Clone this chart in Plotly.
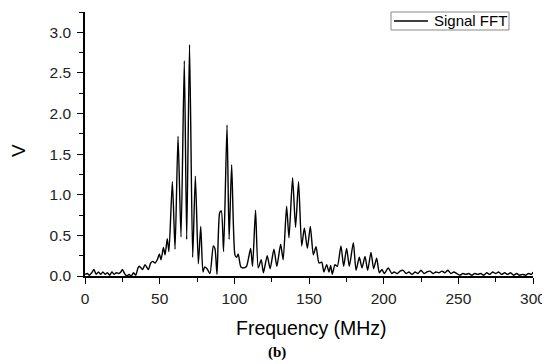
import plotly.graph_objects as go

# Frequency (MHz) and amplitude (V)
freq_mhz = [
    0, 1.5, 3, 4.5, 6, 7.5, 9, 10.5, 12, 13.5, 15, 16.5, 18, 19.5, 21, 22.5, 24, 25,
    26.5, 28, 29.5, 31, 32.5, 34, 35.5, 36.4, 38.6, 40.2, 42.4, 44, 45.4, 46.9, 48.4,
    49.8, 50.9, 52.5, 53.6, 55.1, 56.2, 58.5, 60.3, 62.3, 64.3, 66.5, 68.1, 70, 72.1,
    73.9, 75.9, 77.5, 79, 80.1, 81.7, 83.7, 85.9, 87, 88.4, 90.2, 91.3, 92.8, 95.1,
    96.5, 98.2, 100.4, 101.5, 102.6, 104.4, 106.4, 108.2, 110.9, 112.2, 114.2, 116,
    118, 119.5, 122, 124, 126.5, 128.5, 131, 132.7, 135, 136.6, 139, 141, 143, 145.1,
    146.9, 148.9, 150.9, 152.9, 154.7, 156.7, 158.5, 160, 161.8, 163.4, 164.5, 165.6,
    167.4, 169, 171.4, 173.2, 175.2, 177, 179.7, 181.5, 183.7, 185.5, 187.5, 189.3,
    191.5, 193.3, 195.3, 197.1, 198.9, 200.4, 203.1, 205.4, 207, 209, 211, 213, 215,
    217, 219, 221, 223, 225, 227, 229, 231, 233, 235, 237, 239, 241, 243, 245, 247,
    249, 251, 253, 255, 257, 259, 261, 263, 265, 267, 269, 271, 273, 275, 277, 279,
    281, 283, 285, 287, 289, 291, 293, 295, 297, 299, 300,
]
volts = [
    0.02, 0.03, 0.01, 0.04, 0.08, 0.02, 0.05, 0.02, 0.05, 0.02, 0.04, 0.01, 0.05, 0.02,
    0.04, 0.03, 0.05, 0.08, 0.03, 0.0, 0.02, 0.0, 0.04, 0.01, 0.1, 0.12, 0.08, 0.14,
    0.08, 0.16, 0.18, 0.16, 0.2, 0.27, 0.2, 0.35, 0.26, 0.46, 0.3, 1.16, 0.33, 1.72,
    0.48, 2.65, 0.45, 2.85, 0.23, 1.23, 0.15, 0.61, 0.05, 0.11, 0.09, 0.03, 0.37, 0.34,
    0.02, 0.78, 0.8, 0.3, 1.86, 0.45, 1.37, 0.26, 0.23, 0.27, 0.11, 0.1, 0.12, 0.34,
    0.12, 0.81, 0.1, 0.2, 0.04, 0.25, 0.09, 0.33, 0.12, 0.39, 0.2, 0.86, 0.47, 1.21,
    0.6, 1.16, 0.37, 0.59, 0.34, 0.61, 0.26, 0.36, 0.16, 0.17, 0.05, 0.14, 0.05, 0.13,
    0.02, 0.14, 0.12, 0.37, 0.12, 0.34, 0.12, 0.41, 0.07, 0.23, 0.1, 0.24, 0.07, 0.29,
    0.09, 0.22, 0.04, 0.08, 0.03, 0.1, 0.03, 0.05, 0.03, 0.06, 0.07, 0.03, 0.05, 0.02,
    0.05, 0.03, 0.07, 0.03, 0.05, 0.06, 0.03, 0.05, 0.04, 0.06, 0.04, 0.07, 0.03, 0.05,
    0.03, 0.01, 0.03, 0.02, 0.03, 0.01, 0.03, 0.02, 0.03, 0.01, 0.04, 0.02, 0.05, 0.03,
    0.05, 0.02, 0.04, 0.02, 0.04, 0.01, 0.03, 0.01, 0.02, 0.01, 0.03, 0.02, 0.05,
]

x_ticks = [0, 50, 100, 150, 200, 250, 300]
y_ticks = [0.0, 0.5, 1.0, 1.5, 2.0, 2.5, 3.0]
series_name = "Signal FFT"

FONT = "Arial, Liberation Sans, sans-serif"

fig = go.Figure()
fig.add_trace(go.Scatter(
    x=freq_mhz, y=volts, mode="lines", name=series_name,
    line=dict(color="black", width=1.4, shape="spline", smoothing=0.6),
    showlegend=False,
))

# The page body adds an 8 px margin, so the figure is drawn 8 px smaller
# and all window-pixel positions are shifted by that offset.
OFF = 8
W, H = 550 - OFF, 364 - OFF
L, T = 85 - OFF, 12 - OFF
R = W - (533 - OFF)
B = H - (276 - OFF)
pw, ph = W - L - R, H - T - B

def px_x(p):
    return (p - OFF - L) / pw

def px_y(p):
    return (H - B - (p - OFF)) / ph

axis_common = dict(
    showline=True, linecolor="black", linewidth=1.5, ticks="outside",
    ticklen=6, tickwidth=1, tickcolor="black", showgrid=False, zeroline=False,
    tickfont=dict(family=FONT, size=15.5, color="#222"), mirror=False,
)

fig.update_layout(
    width=W, height=H,
    margin=dict(l=L, r=R, t=T, b=B),
    paper_bgcolor="white", plot_bgcolor="white",
    xaxis=dict(range=[0, 300], tickvals=x_ticks,
               minor=dict(dtick=25, ticklen=4, tickcolor="black", ticks="outside"),
               ticklabelstandoff=2, **axis_common),
    yaxis=dict(range=[0, 3.25], tickvals=y_ticks, tickformat=".1f",
               minor=dict(dtick=0.25, ticklen=4, tickcolor="black", ticks="outside"),
               ticklabelstandoff=3, **axis_common),
    shapes=[
        dict(type="rect", xref="paper", yref="paper",
             x0=px_x(391), x1=px_x(509), y0=px_y(30), y1=px_y(12),
             line=dict(color="#888", width=1), fillcolor="white"),
        dict(type="line", xref="paper", yref="paper",
             x0=px_x(394), x1=px_x(428), y0=px_y(21), y1=px_y(21),
             line=dict(color="black", width=1.3)),
    ],
    annotations=[
        dict(text=series_name, xref="paper", yref="paper", x=px_x(432), y=px_y(21),
             xanchor="left", yanchor="middle", showarrow=False,
             font=dict(family=FONT, size=15, color="black")),
        dict(text="Frequency (MHz)", xref="paper", yref="paper", x=px_x(311), y=px_y(328),
             xanchor="center", yanchor="middle", showarrow=False,
             font=dict(family=FONT, size=19.5, color="black")),
        dict(text="V", xref="paper", yref="paper", x=px_x(18), y=px_y(151),
             xanchor="center", yanchor="middle", showarrow=False, textangle=-90,
             font=dict(family=FONT, size=19, color="black")),
        dict(text="<b>(b)</b>", xref="paper", yref="paper", x=px_x(277), y=px_y(352),
             xanchor="center", yanchor="middle", showarrow=False,
             font=dict(family="Liberation Serif, Times New Roman, serif", size=15, color="black")),
    ],
)

fig.write_html("out.html")
